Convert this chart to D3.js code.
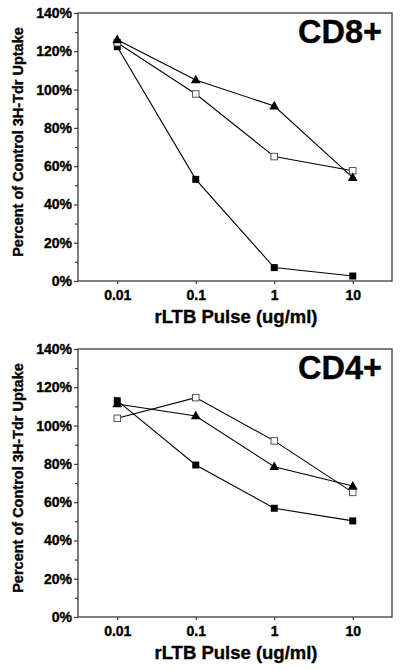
<!DOCTYPE html>
<html>
<head>
<meta charset="utf-8">
<script src="https://cdn.jsdelivr.net/npm/d3@7"></script>
<style>
  html, body { margin: 0; padding: 0; background: #fff; }
  svg { display: block; }
  text { font-family: "Liberation Sans", Arial, Helvetica, sans-serif; font-weight: bold; fill: #000; stroke: #000; stroke-width: 0.35px; }
</style>
</head>
<body>
<svg id="chart" width="400" height="670"></svg>
<script>
// ---- data ----
const doses = [0.01, 0.1, 1, 10];
const doseLabels = ["0.01", "0.1", "1", "10"];
const yTicks = [0, 20, 40, 60, 80, 100, 120, 140];
const yMinorTicks = [10, 30, 50, 70, 90, 110, 130];

const panelTitles = ["CD8+", "CD4+"];
// CD8+
const cd8FilledSquare = [122.4, 53.1, 7.0, 2.6];
const cd8Triangle     = [126.0, 105.0, 91.4, 54.0];
const cd8OpenSquare   = [124.5, 97.7, 65.0, 57.6];
// CD4+
const cd4FilledSquare = [113.0, 79.4, 56.8, 50.2];
const cd4Triangle     = [111.3, 105.0, 78.5, 68.4];
const cd4OpenSquare   = [103.8, 114.6, 92.0, 65.1];

const xTitle = "rLTB Pulse (ug/ml)";
const yTitle = "Percent of Control 3H-Tdr Uptake";

// ---- drawing ----
const svg = d3.select("#chart");

function drawPanel(top, title, series) {
  const left = 78, right = 392, height = 268;
  const bottom = top + height;
  const x = d3.scaleLog().domain([Math.pow(10, -2.5), Math.pow(10, 1.5)]).range([left, right]);
  const y = d3.scaleLinear().domain([0, 140]).range([bottom, top]);
  const g = svg.append("g");

  // frame
  g.append("rect")
    .attr("x", left).attr("y", top)
    .attr("width", right - left).attr("height", height)
    .attr("fill", "none").attr("stroke", "#3a3a3a").attr("stroke-width", 1.3);

  // y axis
  const yAxis = d3.axisLeft(y).tickValues(yTicks).tickSize(4).tickPadding(2)
    .tickFormat(d => d + "%");
  const ya = g.append("g").attr("transform", `translate(${left},0)`).call(yAxis);
  ya.select(".domain").remove();
  ya.selectAll("line").attr("stroke", "#3a3a3a").attr("stroke-width", 1.2);
  ya.selectAll("text").style("font-size", "14px").style("font-weight", "bold")
    .attr("fill", "#000").attr("font-family", null);

  const yMinor = d3.axisLeft(y).tickValues(yMinorTicks).tickSize(3).tickFormat("");
  const ym = g.append("g").attr("transform", `translate(${left},0)`).call(yMinor);
  ym.select(".domain").remove();
  ym.selectAll("line").attr("stroke", "#3a3a3a").attr("stroke-width", 1.2);

  // x axis
  const xAxis = d3.axisBottom(x).tickValues(doses).tickSize(3).tickPadding(6)
    .tickFormat((d, i) => doseLabels[i]);
  const xa = g.append("g").attr("transform", `translate(0,${bottom})`).call(xAxis);
  xa.select(".domain").remove();
  xa.selectAll("line").attr("stroke", "#3a3a3a").attr("stroke-width", 1.2);
  xa.selectAll("text").style("font-size", "14px").style("font-weight", "bold")
    .attr("fill", "#000").attr("font-family", null);

  // axis titles
  g.append("text")
    .attr("x", (left + right) / 2 + 1).attr("y", bottom + 42)
    .attr("text-anchor", "middle").style("font-size", "18.5px")
    .text(xTitle);
  g.append("text")
    .attr("transform", `translate(23,${top + height / 2 - 5}) rotate(-90)`)
    .attr("text-anchor", "middle").style("font-size", "14.5px")
    .text(yTitle);

  // panel label
  g.append("text")
    .attr("x", right - 10).attr("y", top + 30)
    .attr("text-anchor", "end").style("font-size", "32.5px")
    .text(title);

  // lines
  const line = d3.line().x((d, i) => x(doses[i])).y(d => y(d));
  series.forEach(s => {
    g.append("path").datum(s.values)
      .attr("d", line).attr("fill", "none")
      .attr("stroke", "#000").attr("stroke-width", 1.1);
  });

  // markers
  series.forEach(s => {
    const pts = s.values.map((v, i) => [x(doses[i]), y(v)]);
    if (s.type === "filledSquare") {
      g.selectAll(null).data(pts).enter().append("rect")
        .attr("x", d => d[0] - 3.5).attr("y", d => d[1] - 3.5)
        .attr("width", 7).attr("height", 7).attr("fill", "#000");
    } else if (s.type === "openSquare") {
      g.selectAll(null).data(pts).enter().append("rect")
        .attr("x", d => d[0] - 3.25).attr("y", d => d[1] - 3.25)
        .attr("width", 6.5).attr("height", 6.5)
        .attr("fill", "#fff").attr("stroke", "#555").attr("stroke-width", 1);
    } else {
      const tri = d3.symbol().type(d3.symbolTriangle).size(42);
      g.selectAll(null).data(pts).enter().append("path")
        .attr("d", tri()).attr("transform", d => `translate(${d[0]},${d[1] + 0.5})`)
        .attr("fill", "#000");
    }
  });
}

drawPanel(13, panelTitles[0], [
  { type: "filledSquare", values: cd8FilledSquare },
  { type: "openSquare", values: cd8OpenSquare },
  { type: "triangle", values: cd8Triangle }
]);
drawPanel(349, panelTitles[1], [
  { type: "filledSquare", values: cd4FilledSquare },
  { type: "openSquare", values: cd4OpenSquare },
  { type: "triangle", values: cd4Triangle }
]);
</script>
</body>
</html>
